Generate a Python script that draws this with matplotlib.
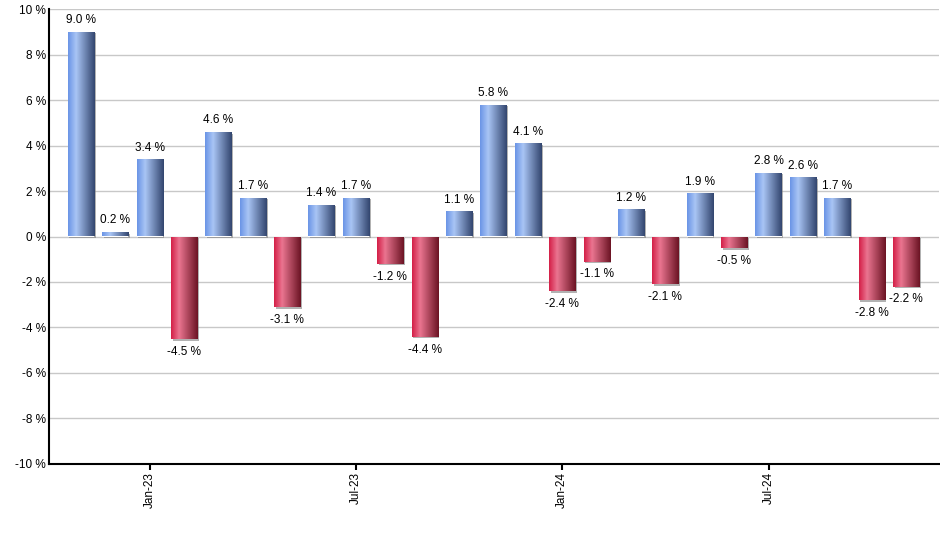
import numpy as np
import matplotlib.pyplot as plt
import matplotlib.patheffects as pe
from matplotlib.colors import LinearSegmentedColormap

plt.rcParams['font.family'] = ['Liberation Sans', 'DejaVu Sans']

# monthly returns, Nov-22 .. Nov-24
months = ['Nov-22', 'Dec-22', 'Jan-23', 'Feb-23', 'Mar-23', 'Apr-23', 'May-23', 'Jun-23',
          'Jul-23', 'Aug-23', 'Sep-23', 'Oct-23', 'Nov-23', 'Dec-23', 'Jan-24', 'Feb-24',
          'Mar-24', 'Apr-24', 'May-24', 'Jun-24', 'Jul-24', 'Aug-24', 'Sep-24', 'Oct-24', 'Nov-24']
returns = [9.0, 0.2, 3.4, -4.5, 4.6, 1.7, -3.1, 1.4, 1.7, -1.2, -4.4, 1.1, 5.8, 4.1,
           -2.4, -1.1, 1.2, -2.1, 1.9, -0.5, 2.8, 2.6, 1.7, -2.8, -2.2]
tick_months = ['Jan-23', 'Jul-23', 'Jan-24', 'Jul-24']
y_ticks = list(range(-10, 11, 2))

# horizontal gradients for the bars
blue_cm = LinearSegmentedColormap.from_list('b', [(0, '#6b95e6'), (0.3, '#a9c5f5'), (1, '#33466f')])
red_cm = LinearSegmentedColormap.from_list('r', [(0, '#d42048'), (0.3, '#ea7590'), (1, '#6c1424')])
grad = np.linspace(0, 1, 64).reshape(1, -1)

fig = plt.figure(figsize=(9.4, 5.5), dpi=100)
ax = fig.add_axes([0.052, 0.1564, 0.947, 0.8272])

x = np.arange(len(months))
bars = ax.bar(x, returns, width=0.76, color='none', edgecolor='none', zorder=3)

for b, v in zip(bars, returns):
    b.set_facecolor('#ffffff')
    b.set_path_effects([pe.SimplePatchShadow(offset=(1.2, -1.2), shadow_rgbFace='#808080', alpha=0.6), pe.Normal()])
    x0, y0 = b.get_x(), b.get_y()
    w, h = b.get_width(), b.get_height()
    im = ax.imshow(grad, cmap=blue_cm if v >= 0 else red_cm, aspect='auto',
                   extent=(x0, x0 + w, min(y0, y0 + h), max(y0, y0 + h)), zorder=4)
    im.set_clip_path(b)
    if v >= 0:
        ax.annotate(f'{v:.1f} %', (x0 + w / 2, v), xytext=(0, 4), textcoords='offset points',
                    ha='center', va='bottom', fontsize=8.5)
    else:
        ax.annotate(f'{v:.1f} %', (x0 + w / 2, v), xytext=(0, -5), textcoords='offset points',
                    ha='center', va='top', fontsize=8.5)

ax.set_xlim(-0.93, len(months) - 1 + 0.96)
ax.set_ylim(-10, 10)
ax.set_yticks(y_ticks)
ax.set_yticklabels([f'{t} %' for t in y_ticks], fontsize=8.5)
ax.set_xticks([months.index(m) for m in tick_months])
ax.set_xticklabels(tick_months, rotation=90, fontsize=8.5)
ax.tick_params(axis='y', length=0, pad=2)
ax.tick_params(axis='x', length=4, width=1.5, direction='out', pad=2)

ax.grid(axis='y', color='#c8c8c8', linewidth=1, zorder=0)
ax.set_axisbelow(True)
for s in ['top', 'right']:
    ax.spines[s].set_visible(False)
ax.spines['left'].set_linewidth(1.5)
ax.spines['bottom'].set_linewidth(1.5)

fig.savefig('out.png', dpi=100)
